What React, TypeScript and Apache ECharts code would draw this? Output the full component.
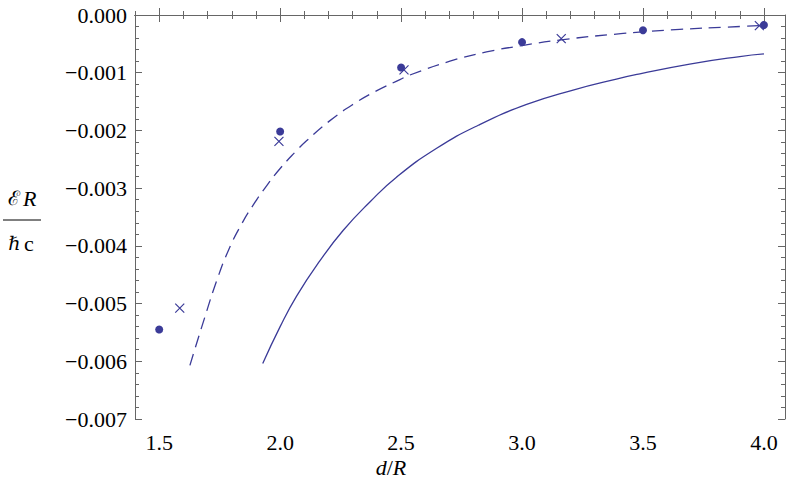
import React, { useEffect, useRef } from 'react';
import * as echarts from 'echarts';

// Filled dots
const dotX = [1.5, 2.0, 2.5, 3.0, 3.5, 4.0];
const dotY = [-0.00545, -0.00202, -0.00091, -0.00047, -0.000265, -0.000173];

// Crosses
const crossX = [1.585, 1.995, 2.512, 3.162, 3.981];
const crossY = [-0.00508, -0.00219, -0.00095, -0.00041, -0.000185];

// Dashed curve
const dashX = [1.627, 1.689, 1.738, 1.786, 1.841, 1.889, 1.944, 2.0, 2.068, 2.109, 2.206, 2.316, 2.40, 2.495, 2.536, 2.702, 2.853, 3.0, 3.162, 3.418, 3.652, 3.845, 4.0];
const dashY = [-0.00607, -0.00523, -0.00460, -0.00408, -0.00362, -0.00329, -0.00296, -0.00266, -0.00235, -0.00218, -0.00183, -0.00151, -0.00131, -0.00112, -0.00104, -0.00080, -0.00064, -0.00053, -0.00043, -0.00032, -0.00025, -0.00021, -0.00018];

// Solid curve
const solidX = [1.928, 2.0, 2.068, 2.164, 2.261, 2.371, 2.481, 2.647, 2.819, 3.019, 3.211, 3.39, 3.487, 3.693, 3.9, 4.0];
const solidY = [-0.00604, -0.00540, -0.00487, -0.00426, -0.00373, -0.00324, -0.00281, -0.00231, -0.00191, -0.00155, -0.00130, -0.00111, -0.00102, -0.00085, -0.00072, -0.000675];

// Axis ticks
const xMajorTicks = [1.5, 2.0, 2.5, 3.0, 3.5, 4.0];
const xMinorTicks = [1.4, 1.5, 1.6, 1.7, 1.8, 1.9, 2.0, 2.1, 2.2, 2.3, 2.4, 2.5, 2.6, 2.7, 2.8, 2.9, 3.0, 3.1, 3.2, 3.3, 3.4, 3.5, 3.6, 3.7, 3.8, 3.9, 4.0];

const COLOR = '#3b3b98';
const FRAME = '#666';
const FONT = 'Liberation Serif';

const X_MIN = 1.4;
const X_MAX = 4.087;

const zip = (xs: number[], ys: number[]) => xs.map((x, i) => [x, ys[i]]);

export default function App() {
  const ref = useRef<HTMLDivElement>(null);
  useEffect(() => {
    if (!ref.current) return;
    const chart = echarts.init(ref.current, undefined, { renderer: 'svg' });

    const xBase = (position: 'top' | 'bottom', ticks: number[], len: number, labels: boolean) => ({
      type: 'value',
      position,
      min: X_MIN,
      max: X_MAX,
      axisLine: { show: true, lineStyle: { color: FRAME, width: 1 } },
      axisTick: { show: true, inside: true, length: len, customValues: ticks, lineStyle: { color: FRAME, width: 1 } },
      axisLabel: {
        show: labels,
        customValues: ticks,
        color: '#000',
        fontFamily: FONT,
        fontSize: 22,
        margin: 12,
        formatter: (v: number) => v.toFixed(1),
      },
      splitLine: { show: false },
    });

    const yBase = (position: 'left' | 'right', labels: boolean) => ({
      type: 'value',
      position,
      min: -0.007,
      max: 0,
      interval: 0.001,
      axisLine: { show: true, lineStyle: { color: FRAME, width: 1 } },
      axisTick: { show: true, inside: true, length: 7, lineStyle: { color: FRAME, width: 1 } },
      minorTick: { show: true, splitNumber: 5, length: 4, lineStyle: { color: FRAME, width: 1 } },
      axisLabel: {
        show: labels,
        color: '#000',
        fontFamily: FONT,
        fontSize: 22,
        margin: 8,
        formatter: (v: number) => {
          const s = Math.abs(v).toFixed(3);
          return v < -1e-9 ? '\u2212' + s : s;
        },
      },
      splitLine: { show: false },
    });

    chart.setOption({
      animation: false,
      backgroundColor: '#fff',
      grid: { left: 135, right: 4, top: 15, bottom: 78, containLabel: false },
      xAxis: [
        xBase('bottom', xMajorTicks, 7, true),
        xBase('bottom', xMinorTicks, 4, false),
        xBase('top', xMajorTicks, 7, false),
        xBase('top', xMinorTicks, 4, false),
      ],
      yAxis: [yBase('left', true), yBase('right', false)],
      series: [
        {
          type: 'line',
          xAxisIndex: 0,
          yAxisIndex: 0,
          data: zip(solidX, solidY),
          showSymbol: false,
          smooth: 0.5,
          lineStyle: { color: COLOR, width: 1.3 },
        },
        {
          type: 'line',
          xAxisIndex: 0,
          yAxisIndex: 0,
          data: zip(dashX, dashY),
          showSymbol: false,
          smooth: 0.5,
          lineStyle: { color: COLOR, width: 1.3, type: [12, 7] },
        },
        {
          type: 'scatter',
          xAxisIndex: 0,
          yAxisIndex: 0,
          data: zip(dotX, dotY),
          symbol: 'circle',
          symbolSize: 8,
          itemStyle: { color: COLOR, opacity: 1 },
        },
        {
          type: 'scatter',
          xAxisIndex: 0,
          yAxisIndex: 0,
          data: zip(crossX, crossY),
          symbol: 'path://M0,0L10,10M10,0L0,10',
          symbolSize: 9,
          itemStyle: { color: 'none', borderColor: COLOR, borderWidth: 1.2, opacity: 1 },
        },
      ],
      graphic: [
        {
          type: 'text',
          x: 22,
          y: 198,
          style: {
            text: '{s|\u2130} {i|R}',
            align: 'center',
            verticalAlign: 'middle',
            rich: {
              s: { fontFamily: 'DejaVu Serif', fontSize: 20, fill: '#000' },
              i: { fontFamily: FONT, fontStyle: 'italic', fontSize: 22, fill: '#000' },
            },
          },
        },
        {
          type: 'line',
          shape: { x1: 3, y1: 220, x2: 41, y2: 220 },
          style: { stroke: '#000', lineWidth: 1 },
        },
        {
          type: 'text',
          x: 21,
          y: 243,
          style: {
            text: '{h|\u210F} {c|c}',
            align: 'center',
            verticalAlign: 'middle',
            rich: {
              h: { fontFamily: 'DejaVu Serif', fontStyle: 'italic', fontSize: 19, fill: '#000' },
              c: { fontFamily: FONT, fontSize: 22, fill: '#000' },
            },
          },
        },
        {
          type: 'text',
          x: 391,
          y: 467,
          style: {
            text: '{i|d}{n|/}{i|R}',
            align: 'center',
            verticalAlign: 'middle',
            rich: {
              i: { fontFamily: FONT, fontStyle: 'italic', fontSize: 22, fill: '#000' },
              n: { fontFamily: FONT, fontSize: 22, fill: '#000' },
            },
          },
        },
      ],
    });
    return () => chart.dispose();
  }, []);
  return (
    <div
      ref={ref}
      style={{ position: 'fixed', left: 0, top: 0, width: 789, height: 497 }}
    />
  );
}
